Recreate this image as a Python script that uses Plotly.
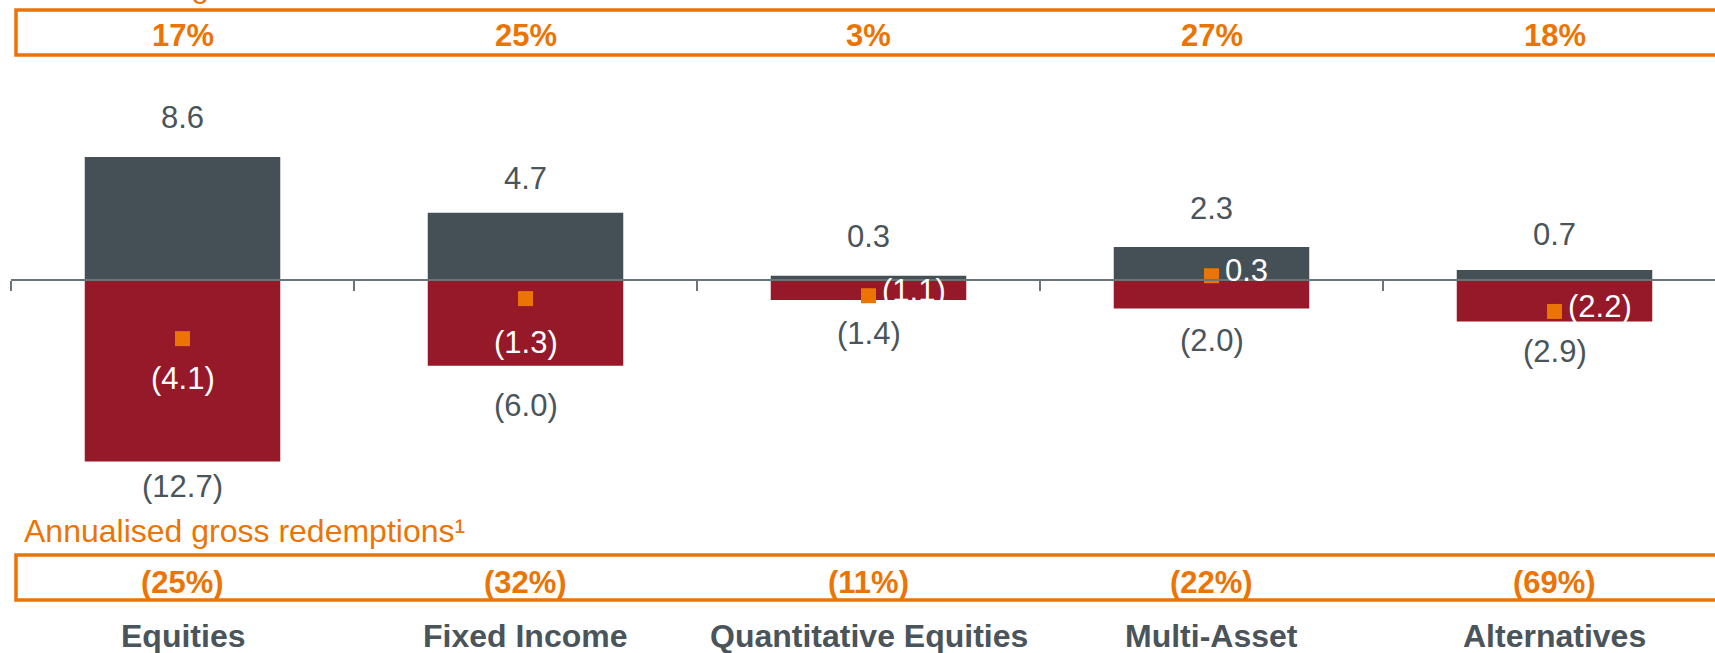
import plotly.graph_objects as go

categories = ['Equities', 'Fixed Income', 'Quantitative Equities', 'Multi-Asset', 'Alternatives']
gross_sales = [8.6, 4.7, 0.3, 2.3, 0.7]
gross_redemptions = [-12.7, -6.0, -1.4, -2.0, -2.9]
net_flows = [-4.1, -1.3, -1.1, 0.3, -2.2]
sales_rate = ['17%', '25%', '3%', '27%', '18%']
redemption_rate = ['(25%)', '(32%)', '(11%)', '(22%)', '(69%)']

W, H = 1715, 653
GREY = '#454f56'
RED = '#951928'
ORANGE = '#ec7404'
TEXT = '#4a545b'
FONT = 'Arial, Liberation Sans, sans-serif'


def fmt(v):
    # negatives shown in brackets
    return '(%.1f)' % abs(v) if v < 0 else '%.1f' % v


def py(px):
    # pixel from top -> paper fraction
    return 1 - px / H


xs = list(range(len(categories)))

fig = go.Figure()
fig.add_trace(go.Bar(x=xs, y=gross_sales, width=0.57, marker_color=GREY,
                     marker_line_width=0, name='Gross sales'))
fig.add_trace(go.Bar(x=xs, y=gross_redemptions, width=0.57, marker_color=RED,
                     marker_line_width=0, name='Gross redemptions'))
fig.add_trace(go.Scatter(x=xs, y=net_flows, mode='markers', name='Net flows',
                         marker=dict(symbol='square', size=15, color=ORANGE,
                                     line=dict(width=0))))

ann = []
sales_shift = [40, 34, 39, 39, 35]
red_shift = [-25, -40, -33, -32, -30]
for i in xs:
    ann.append(dict(x=i, y=gross_sales[i], yshift=sales_shift[i], text=fmt(gross_sales[i]),
                    showarrow=False, font=dict(size=31, color=TEXT)))
    ann.append(dict(x=i, y=gross_redemptions[i], yshift=red_shift[i],
                    text=fmt(gross_redemptions[i]), showarrow=False,
                    font=dict(size=31, color=TEXT)))
    # net flow labels
    if i < 2:
        ann.append(dict(x=i, y=net_flows[i], yshift=-40 if i == 0 else -44,
                        text=fmt(net_flows[i]), showarrow=False,
                        font=dict(size=31, color='white')))
    else:
        ann.append(dict(x=i, y=net_flows[i], xshift=11, yshift=5, xanchor='left',
                        text=fmt(net_flows[i]), showarrow=False,
                        font=dict(size=31, color='white')))
    ann.append(dict(x=i, xanchor='center', y=py(35), yref='paper', yanchor='middle',
                    text='<b>%s</b>' % sales_rate[i],
                    showarrow=False, font=dict(size=31, color=ORANGE)))
    ann.append(dict(x=i, xanchor='center', y=py(582), yref='paper', yanchor='middle',
                    text='<b>%s</b>' % redemption_rate[i],
                    showarrow=False, font=dict(size=31, color=ORANGE)))
    ann.append(dict(x=i, xanchor='center', y=py(636), yref='paper', yanchor='middle',
                    text='<b>%s</b>' % categories[i],
                    showarrow=False, font=dict(size=32, color=TEXT)))

ann.append(dict(x=22 / W, xref='paper', xanchor='left', y=py(531), yref='paper',
                yanchor='middle', text='Annualised gross redemptions¹', showarrow=False,
                font=dict(size=32, color=ORANGE)))
ann.append(dict(x=22 / W, xref='paper', xanchor='left', y=py(-14), yref='paper',
                yanchor='middle', text='Annualised gross sales¹', showarrow=False,
                font=dict(size=32, color=ORANGE)))

shapes = [
    dict(type='rect', xref='paper', yref='paper', x0=16 / W, x1=1.02, y0=py(55), y1=py(10),
         line=dict(color=ORANGE, width=3.5)),
    dict(type='rect', xref='paper', yref='paper', x0=16 / W, x1=1.02, y0=py(600), y1=py(555),
         line=dict(color=ORANGE, width=3.5)),
    dict(type='line', x0=-0.5, x1=4.7, y0=0, y1=0, layer='above',
         line=dict(color='#6b7479', width=2)),
]

zero_px = 280
px_per_unit = 14.3
fig.update_layout(
    width=W, height=H,
    margin=dict(l=0, r=0, t=0, b=0),
    plot_bgcolor='white', paper_bgcolor='white',
    barmode='relative', showlegend=False,
    font=dict(family=FONT),
    annotations=ann, shapes=shapes,
    xaxis=dict(range=[-182.5 / 343, (W - 182.5) / 343], showgrid=False, zeroline=False,
               showticklabels=False, ticks='outside', ticklen=10, tickwidth=1.5,
               tickcolor='#6b7479', tickvals=[-0.5, 0.5, 1.5, 2.5, 3.5, 4.5],
               anchor='free', position=py(zero_px), showline=False),
    yaxis=dict(range=[-(H - zero_px) / px_per_unit, zero_px / px_per_unit], visible=False),
)

# page body has a default margin; drop it so the chart fills the window
fig.write_html("out.html", config={'displayModeBar': False},
               post_script="document.body.style.margin='0px';")
